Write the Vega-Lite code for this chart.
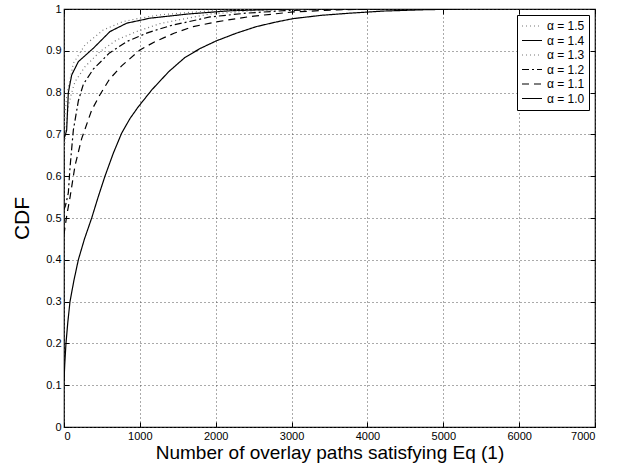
{
  "$schema": "https://vega.github.io/schema/vega-lite/v6.json",
  "width": 531,
  "height": 418,
  "autosize": {"type": "none"},
  "padding": {"left": 64, "top": 9, "right": 29, "bottom": 44},
  "background": "white",
  "config": {
    "font": "Liberation Sans",
    "view": {"stroke": "black", "strokeWidth": 1.2},
    "axis": {
      "domain": false,
      "tickColor": "black",
      "tickWidth": 1,
      "labelColor": "black",
      "labelFontSize": 11,
      "titleColor": "black",
      "titleFontWeight": "normal"
    }
  },
  "data": {"values": [
    {"a": "α = 1.0", "x": 0, "y": 0.11},
    {"a": "α = 1.0", "x": 10, "y": 0.15},
    {"a": "α = 1.0", "x": 26, "y": 0.2},
    {"a": "α = 1.0", "x": 50, "y": 0.25},
    {"a": "α = 1.0", "x": 79, "y": 0.3},
    {"a": "α = 1.0", "x": 130, "y": 0.35},
    {"a": "α = 1.0", "x": 189, "y": 0.4},
    {"a": "α = 1.0", "x": 270, "y": 0.45},
    {"a": "α = 1.0", "x": 365, "y": 0.5},
    {"a": "α = 1.0", "x": 450, "y": 0.55},
    {"a": "α = 1.0", "x": 540, "y": 0.6},
    {"a": "α = 1.0", "x": 650, "y": 0.655},
    {"a": "α = 1.0", "x": 760, "y": 0.703},
    {"a": "α = 1.0", "x": 870, "y": 0.738},
    {"a": "α = 1.0", "x": 979, "y": 0.766},
    {"a": "α = 1.0", "x": 1155, "y": 0.806},
    {"a": "α = 1.0", "x": 1380, "y": 0.85},
    {"a": "α = 1.0", "x": 1594, "y": 0.884},
    {"a": "α = 1.0", "x": 1800, "y": 0.906},
    {"a": "α = 1.0", "x": 2011, "y": 0.924},
    {"a": "α = 1.0", "x": 2270, "y": 0.942},
    {"a": "α = 1.0", "x": 2538, "y": 0.958},
    {"a": "α = 1.0", "x": 2800, "y": 0.969},
    {"a": "α = 1.0", "x": 3021, "y": 0.977},
    {"a": "α = 1.0", "x": 3400, "y": 0.985},
    {"a": "α = 1.0", "x": 3768, "y": 0.99},
    {"a": "α = 1.0", "x": 4200, "y": 0.995},
    {"a": "α = 1.0", "x": 4700, "y": 0.998},
    {"a": "α = 1.0", "x": 5200, "y": 1.0},
    {"a": "α = 1.1", "x": 0, "y": 0.46},
    {"a": "α = 1.1", "x": 15, "y": 0.48},
    {"a": "α = 1.1", "x": 40, "y": 0.51},
    {"a": "α = 1.1", "x": 80, "y": 0.55},
    {"a": "α = 1.1", "x": 145, "y": 0.625},
    {"a": "α = 1.1", "x": 233, "y": 0.69},
    {"a": "α = 1.1", "x": 365, "y": 0.758},
    {"a": "α = 1.1", "x": 474, "y": 0.795},
    {"a": "α = 1.1", "x": 600, "y": 0.832},
    {"a": "α = 1.1", "x": 760, "y": 0.864},
    {"a": "α = 1.1", "x": 1001, "y": 0.902},
    {"a": "α = 1.1", "x": 1200, "y": 0.922},
    {"a": "α = 1.1", "x": 1450, "y": 0.942},
    {"a": "α = 1.1", "x": 1704, "y": 0.958},
    {"a": "α = 1.1", "x": 2000, "y": 0.969},
    {"a": "α = 1.1", "x": 2450, "y": 0.982},
    {"a": "α = 1.1", "x": 3021, "y": 0.993},
    {"a": "α = 1.1", "x": 3600, "y": 0.998},
    {"a": "α = 1.1", "x": 4200, "y": 1.0},
    {"a": "α = 1.2", "x": 0, "y": 0.52},
    {"a": "α = 1.2", "x": 20, "y": 0.53},
    {"a": "α = 1.2", "x": 57, "y": 0.56},
    {"a": "α = 1.2", "x": 79, "y": 0.62},
    {"a": "α = 1.2", "x": 123, "y": 0.71},
    {"a": "α = 1.2", "x": 189, "y": 0.78},
    {"a": "α = 1.2", "x": 255, "y": 0.82},
    {"a": "α = 1.2", "x": 386, "y": 0.856},
    {"a": "α = 1.2", "x": 600, "y": 0.895},
    {"a": "α = 1.2", "x": 826, "y": 0.922},
    {"a": "α = 1.2", "x": 1100, "y": 0.943},
    {"a": "α = 1.2", "x": 1400, "y": 0.96},
    {"a": "α = 1.2", "x": 1924, "y": 0.981},
    {"a": "α = 1.2", "x": 2400, "y": 0.99},
    {"a": "α = 1.2", "x": 2900, "y": 0.996},
    {"a": "α = 1.2", "x": 3500, "y": 1.0},
    {"a": "α = 1.3", "x": 0, "y": 0.66},
    {"a": "α = 1.3", "x": 30, "y": 0.72},
    {"a": "α = 1.3", "x": 60, "y": 0.77},
    {"a": "α = 1.3", "x": 101, "y": 0.8},
    {"a": "α = 1.3", "x": 145, "y": 0.826},
    {"a": "α = 1.3", "x": 277, "y": 0.862},
    {"a": "α = 1.3", "x": 474, "y": 0.898},
    {"a": "α = 1.3", "x": 694, "y": 0.926},
    {"a": "α = 1.3", "x": 957, "y": 0.946},
    {"a": "α = 1.3", "x": 1265, "y": 0.965},
    {"a": "α = 1.3", "x": 1600, "y": 0.977},
    {"a": "α = 1.3", "x": 1924, "y": 0.988},
    {"a": "α = 1.3", "x": 2500, "y": 0.996},
    {"a": "α = 1.3", "x": 3200, "y": 1.0},
    {"a": "α = 1.4", "x": 0, "y": 0.69},
    {"a": "α = 1.4", "x": 20, "y": 0.7},
    {"a": "α = 1.4", "x": 35, "y": 0.71},
    {"a": "α = 1.4", "x": 57, "y": 0.8},
    {"a": "α = 1.4", "x": 101, "y": 0.842},
    {"a": "α = 1.4", "x": 189, "y": 0.874},
    {"a": "α = 1.4", "x": 386, "y": 0.906},
    {"a": "α = 1.4", "x": 606, "y": 0.946},
    {"a": "α = 1.4", "x": 826, "y": 0.966},
    {"a": "α = 1.4", "x": 1133, "y": 0.978},
    {"a": "α = 1.4", "x": 1634, "y": 0.988},
    {"a": "α = 1.4", "x": 2200, "y": 0.996},
    {"a": "α = 1.4", "x": 3000, "y": 1.0},
    {"a": "α = 1.5", "x": 0, "y": 0.72},
    {"a": "α = 1.5", "x": 40, "y": 0.8},
    {"a": "α = 1.5", "x": 79, "y": 0.83},
    {"a": "α = 1.5", "x": 123, "y": 0.87},
    {"a": "α = 1.5", "x": 277, "y": 0.914},
    {"a": "α = 1.5", "x": 518, "y": 0.95},
    {"a": "α = 1.5", "x": 781, "y": 0.97},
    {"a": "α = 1.5", "x": 1001, "y": 0.978},
    {"a": "α = 1.5", "x": 1265, "y": 0.986},
    {"a": "α = 1.5", "x": 1800, "y": 0.994},
    {"a": "α = 1.5", "x": 2500, "y": 1.0}
  ]},
  "resolve": {"axis": {"x": "independent", "y": "independent"}},
  "layer": [
    {
      "mark": {"type": "line", "strokeWidth": 1.2, "clip": true},
      "encoding": {
        "x": {
          "field": "x", "type": "quantitative",
          "scale": {"domain": [0, 7000], "nice": false},
          "axis": {"values": [0,1000,2000,3000,4000,5000,6000,7000], "format": "d", "tickSize": -5, "labelPadding": 8,
                   "grid": true, "gridColor": "#555", "gridDash": [1, 3],
                   "title": "Number of overlay paths satisfying Eq (1)", "titleFontSize": 19, "titlePadding": 2}
        },
        "y": {
          "field": "y", "type": "quantitative",
          "scale": {"domain": [0, 1], "nice": false},
          "axis": {"values": [0,0.1,0.2,0.3,0.4,0.5,0.6,0.7,0.8,0.9,1], "format": "~f", "tickSize": -5, "labelPadding": 8,
                   "grid": true, "gridColor": "#555", "gridDash": [1, 3],
                   "title": "CDF", "titleFontSize": 21, "titlePadding": 13}
        },
        "color": {
          "field": "a", "type": "nominal",
          "scale": {"domain": ["α = 1.5","α = 1.4","α = 1.3","α = 1.2","α = 1.1","α = 1.0"],
                    "range": ["#777","black","#777","black","black","black"]},
          "legend": {"title": null, "orient": "top-right", "offset": 6, "strokeColor": "black", "fillColor": "white",
                     "padding": 4, "symbolType": "stroke", "symbolSize": 400, "symbolStrokeWidth": 1.2,
                     "labelFontSize": 12, "labelColor": "black", "rowPadding": 0.5, "clipHeight": 14, "cornerRadius": 0}
        },
        "strokeDash": {
          "field": "a", "type": "nominal",
          "scale": {"domain": ["α = 1.5","α = 1.4","α = 1.3","α = 1.2","α = 1.1","α = 1.0"],
                    "range": [[1,3],[1,0],[1,3],[7,3,2,3],[7,5],[1,0]]},
          "legend": null
        }
      }
    },
    {
      "mark": {"type": "line", "strokeOpacity": 0},
      "encoding": {
        "x": {
          "field": "x", "type": "quantitative",
          "axis": {"orient": "top", "values": [0,1000,2000,3000,4000,5000,6000,7000], "labels": false, "tickSize": -5, "grid": false, "title": null}
        },
        "y": {
          "field": "y", "type": "quantitative",
          "axis": {"orient": "right", "values": [0,0.1,0.2,0.3,0.4,0.5,0.6,0.7,0.8,0.9,1], "labels": false, "tickSize": -5, "grid": false, "title": null}
        },
        "detail": {"field": "a", "type": "nominal"}
      }
    }
  ]
}
